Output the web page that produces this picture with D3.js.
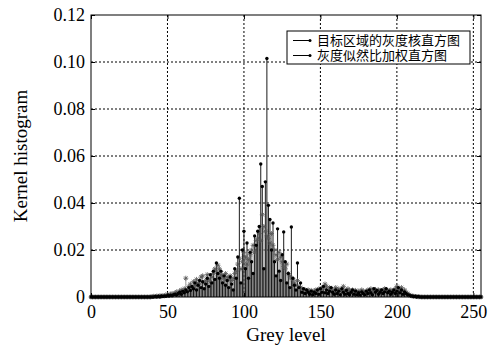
<!DOCTYPE html>
<html>
<head>
<meta charset="utf-8">
<script src="https://cdn.jsdelivr.net/npm/d3@7"></script>
<style>
  body { margin: 0; background: #fff; }
  svg text { font-family: "Liberation Serif", "DejaVu Serif", serif; }
</style>
</head>
<body>
<svg id="chart" width="503" height="351"></svg>
<script>
// grey levels 0..255
var greyLevels = d3.range(0, 256);

// kernel histogram of target region (black stems, dot markers)
var kernelHist = [
  0,0,0,0,0,0,0,0,0,0, 0,0,0,0,0,0,0,0,0,0,
  0,0,0,0,0,0,0,0,0,0, 0,0,0,0,0,0,0,0,0,0,
  0,0,0.0002,0,0.0003,0,0.0004,0.0002,0.0005,0.0003,
  0.0006,0.0004,0.0008,0.0005,0.0010,0.0012,0.0008,0.0015,0.0020,0.0012,
  0.0025,0.0018,0.0030,0.0022,0.0040,0.0028,0.0045,0.0035,0.0060,0.0030,
  0.0050,0.0070,0.0040,0.0065,0.0035,0.0055,0.0080,0.0045,0.0095,0.0060,
  0.0110,0.0075,0.0145,0.0100,0.0080,0.0110,0.0060,0.0090,0.0050,0.0070,
  0.0040,0.0085,0.0055,0.0030,0.0120,0.0080,0.0170,0.0420,0.0060,0.0200,
  0.0280,0.0120,0.0230,0.0080,0.0190,0.0150,0.0100,0.0260,0.0220,0.0280,
  0.0300,0.0566,0.0470,0.0120,0.0490,0.1015,0.0390,0.0330,0.0200,0.0315,
  0.0150,0.0090,0.0290,0.0110,0.0070,0.0180,0.0277,0.0150,0.0060,0.0100,
  0.0040,0.0298,0.0080,0.0050,0.0030,0.0145,0.0040,0.0060,0.0020,0.0035,
  0.0015,0.0030,0.0020,0.0012,0.0025,0.0010,0.0020,0.0015,0.0030,0.0012,
  0.0035,0.0020,0.0045,0.0018,0.0030,0.0015,0.0025,0.0040,0.0020,0.0012,
  0.0030,0.0015,0.0025,0.0010,0.0035,0.0020,0.0012,0.0028,0.0015,0.0010,
  0.0020,0.0030,0.0012,0.0025,0.0010,0.0018,0.0008,0.0022,0.0015,0.0010,
  0.0025,0.0015,0.0030,0.0018,0.0010,0.0035,0.0020,0.0028,0.0012,0.0020,
  0.0030,0.0015,0.0022,0.0035,0.0018,0.0025,0.0012,0.0020,0.0030,0.0015,
  0.0025,0.0040,0.0018,0.0030,0.0012,0.0022,0.0015,0.0010,0.0008,0.0005,
  0.0004,0.0002,0.0003,0,0.0002,0,0,0,0,0,
  0,0,0,0,0,0,0,0,0,0, 0,0,0,0,0,0,0,0,0,0,
  0,0,0,0,0,0,0,0,0,0, 0,0,0,0,0,0
];

// likelihood-ratio weighted histogram (grey stems, star markers)
var weightedHist = [
  0,0,0,0,0,0,0,0,0,0, 0,0,0,0,0,0,0,0,0,0,
  0,0,0,0,0,0,0,0,0,0, 0,0,0,0,0,0,0,0,0,0,
  0.0002,0.0003,0.0002,0.0004,0.0003,0.0005,0.0004,0.0006,0.0005,0.0008,
  0.0010,0.0008,0.0012,0.0015,0.0010,0.0018,0.0022,0.0015,0.0025,0.0030,
  0.0020,0.0035,0.0080,0.0030,0.0045,0.0055,0.0040,0.0065,0.0050,0.0075,
  0.0060,0.0055,0.0085,0.0090,0.0060,0.0070,0.0095,0.0075,0.0065,0.0085,
  0.0100,0.0120,0.0110,0.0135,0.0120,0.0095,0.0090,0.0080,0.0100,0.0085,
  0.0075,0.0090,0.0070,0.0080,0.0100,0.0110,0.0140,0.0165,0.0120,0.0150,
  0.0190,0.0170,0.0140,0.0160,0.0180,0.0200,0.0220,0.0190,0.0240,0.0250,
  0.0270,0.0240,0.0350,0.0300,0.0280,0.0260,0.0250,0.0230,0.0270,0.0220,
  0.0200,0.0180,0.0160,0.0190,0.0170,0.0150,0.0130,0.0120,0.0140,0.0100,
  0.0090,0.0080,0.0075,0.0060,0.0050,0.0070,0.0045,0.0040,0.0035,0.0030,
  0.0030,0.0025,0.0030,0.0022,0.0028,0.0020,0.0025,0.0030,0.0022,0.0035,
  0.0030,0.0040,0.0035,0.0055,0.0045,0.0030,0.0040,0.0035,0.0025,0.0030,
  0.0040,0.0030,0.0035,0.0025,0.0030,0.0045,0.0030,0.0025,0.0035,0.0028,
  0.0025,0.0030,0.0022,0.0028,0.0020,0.0025,0.0022,0.0030,0.0025,0.0020,
  0.0022,0.0030,0.0025,0.0035,0.0028,0.0030,0.0032,0.0025,0.0030,0.0028,
  0.0025,0.0030,0.0035,0.0030,0.0025,0.0028,0.0030,0.0025,0.0022,0.0035,
  0.0045,0.0035,0.0030,0.0040,0.0025,0.0030,0.0020,0.0015,0.0010,0.0006,
  0.0004,0.0003,0.0002,0.0002,0.0001,0.0001,0,0,0,0,
  0,0,0,0,0,0,0,0,0,0, 0,0,0,0,0,0,0,0,0,0,
  0,0,0,0,0,0,0,0,0,0, 0,0,0,0,0,0
];

var xTicks = [0, 50, 100, 150, 200, 250];
var yTicks = [0, 0.02, 0.04, 0.06, 0.08, 0.10, 0.12];
var yTickLabels = ["0", "0.02", "0.04", "0.06", "0.08", "0.10", "0.12"];
var legendLabels = ["目标区域的灰度核直方图", "灰度似然比加权直方图"];

var margin = { top: 15, right: 22, bottom: 54, left: 91 };
var width = 503 - margin.left - margin.right;
var height = 351 - margin.top - margin.bottom;

var svg = d3.select("#chart");
var g = svg.append("g")
    .attr("transform", "translate(" + margin.left + "," + margin.top + ")");

var x = d3.scaleLinear().domain([0, 255]).range([0, width]);
var y = d3.scaleLinear().domain([0, 0.12]).range([height, 0]);

// dotted grid
g.append("g").selectAll("line").data(xTicks.slice(1)).enter().append("line")
    .attr("x1", function (d) { return x(d); }).attr("x2", function (d) { return x(d); })
    .attr("y1", 0).attr("y2", height)
    .attr("stroke", "#000").attr("stroke-width", 1).attr("stroke-dasharray", "2,2");
g.append("g").selectAll("line").data(yTicks.slice(1, -1)).enter().append("line")
    .attr("y1", function (d) { return y(d); }).attr("y2", function (d) { return y(d); })
    .attr("x1", 0).attr("x2", width)
    .attr("stroke", "#000").attr("stroke-width", 1).attr("stroke-dasharray", "2,2");

// stems
function stems(data, color) {
  g.append("g").selectAll("line")
      .data(greyLevels.filter(function (k) { return data[k] > 0; }))
      .enter().append("line")
      .attr("x1", function (k) { return x(k); }).attr("x2", function (k) { return x(k); })
      .attr("y1", y(0)).attr("y2", function (k) { return y(data[k]); })
      .attr("stroke", color).attr("stroke-width", 1);
}
stems(weightedHist, "#9a9a9a");
stems(kernelHist, "#1a1a1a");

// star markers for weighted histogram
var star = "M-2.5,0H2.5M0,-2.5V2.5M-1.8,-1.8L1.8,1.8M-1.8,1.8L1.8,-1.8";
g.append("g").selectAll("path").data(greyLevels).enter().append("path")
    .attr("d", star)
    .attr("transform", function (k) { return "translate(" + x(k) + "," + y(weightedHist[k]) + ")"; })
    .attr("stroke", "#555").attr("stroke-width", 0.8).attr("fill", "none");

// dot markers for kernel histogram
g.append("g").selectAll("circle").data(greyLevels).enter().append("circle")
    .attr("cx", function (k) { return x(k); })
    .attr("cy", function (k) { return y(kernelHist[k]); })
    .attr("r", 1.7)
    .attr("fill", "#000");

// axes (ticks inside)
var xAxis = g.append("g").attr("transform", "translate(0," + height + ")")
    .call(d3.axisBottom(x).tickValues(xTicks).tickSize(-4).tickPadding(8));
var yAxis = g.append("g")
    .call(d3.axisLeft(y).tickValues(yTicks).tickSize(-4).tickPadding(6)
      .tickFormat(function (d, i) { return yTickLabels[i]; }));
[xAxis, yAxis].forEach(function (a) {
  a.select(".domain").remove();
  a.selectAll("line").attr("stroke", "#000");
  a.selectAll("text").attr("font-size", 18).attr("fill", "#000")
    .style("font-family", "'Liberation Serif', serif");
});
// top/right ticks
g.append("g").call(d3.axisTop(x).tickValues(xTicks).tickSize(-4).tickFormat(""))
  .call(function (s) { s.select(".domain").remove(); });
g.append("g").attr("transform", "translate(" + width + ",0)")
  .call(d3.axisRight(y).tickValues(yTicks).tickSize(-4).tickFormat(""))
  .call(function (s) { s.select(".domain").remove(); });

// frame
g.append("rect").attr("width", width).attr("height", height)
    .attr("fill", "none").attr("stroke", "#000").attr("stroke-width", 1);

// axis titles
svg.append("text").attr("x", margin.left + width / 2).attr("y", 341)
    .attr("text-anchor", "middle").attr("font-size", 19).text("Grey level");
svg.append("text").attr("transform", "translate(27," + (margin.top + height / 2) + ") rotate(-90)")
    .attr("text-anchor", "middle").attr("font-size", 19).text("Kernel histogram");

// legend
var leg = svg.append("g").attr("transform", "translate(287,31)");
leg.append("rect").attr("width", 183).attr("height", 33)
    .attr("fill", "#fff").attr("stroke", "#000").attr("stroke-width", 1);
legendLabels.forEach(function (t, i) {
  var yy = 9.5 + i * 15;
  leg.append("line").attr("x1", 6).attr("x2", 23).attr("y1", yy).attr("y2", yy)
      .attr("stroke", "#000").attr("stroke-width", 1);
  leg.append("circle").attr("cx", 23).attr("cy", yy).attr("r", 1.5).attr("fill", "#000");
  leg.append("text").attr("x", 30).attr("y", yy + 4.5)
      .attr("font-size", 13)
      .style("font-family", "'Noto Sans CJK SC', sans-serif")
      .text(t);
});
</script>
</body>
</html>
